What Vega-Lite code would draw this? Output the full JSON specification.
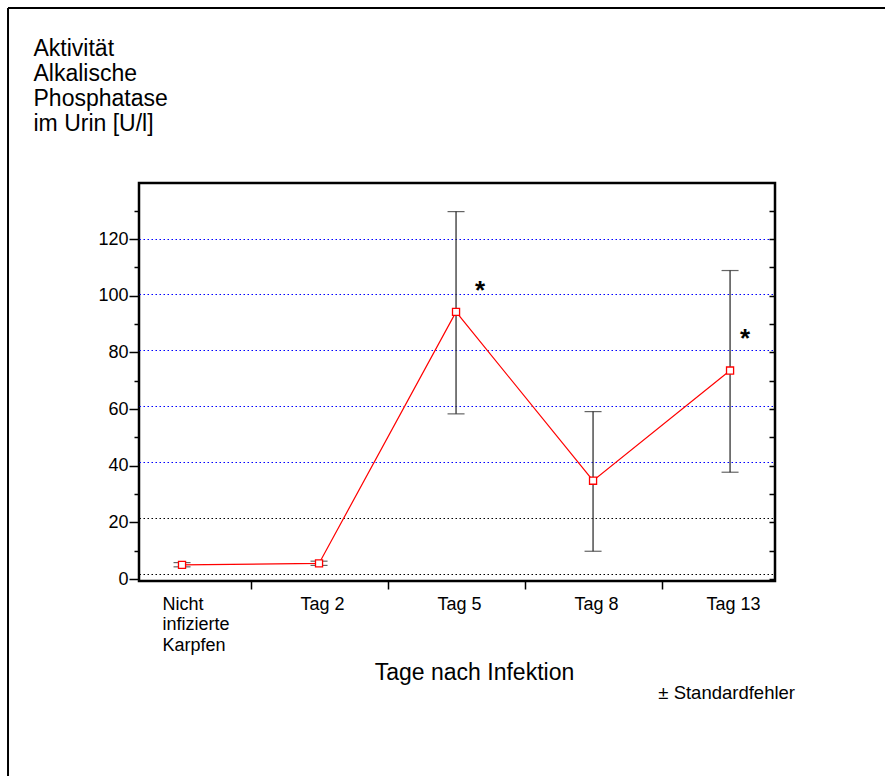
{
  "$schema": "https://vega.github.io/schema/vega-lite/v6.json",
  "width": 636,
  "height": 398,
  "autosize": {"type": "none"},
  "padding": {"left": 139, "top": 183, "right": 110, "bottom": 195},
  "background": "white",
  "config": {
    "font": "Liberation Sans",
    "view": {"stroke": "black", "strokeWidth": 2.5},
    "axis": {"labelColor": "black", "tickColor": "black", "titleColor": "black", "domain": false}
  },
  "data": {
    "values": [
      {"gruppe": "Nicht infizierte Karpfen", "pos": 0, "mittel": 5.0, "lo": 4.3, "hi": 5.8},
      {"gruppe": "Tag 2", "pos": 1, "mittel": 5.5, "lo": 4.8, "hi": 6.3},
      {"gruppe": "Tag 5", "pos": 2, "mittel": 94.3, "lo": 58.3, "hi": 129.7},
      {"gruppe": "Tag 8", "pos": 3, "mittel": 34.7, "lo": 9.8, "hi": 59.1},
      {"gruppe": "Tag 13", "pos": 4, "mittel": 73.6, "lo": 37.7, "hi": 108.9}
    ]
  },
  "resolve": {"axis": {"x": "independent", "y": "independent"}},
  "layer": [
    {
      "mark": {"type": "line", "color": "#ff0000", "strokeWidth": 1.2},
      "encoding": {
        "x": {
          "field": "pos", "type": "quantitative",
          "scale": {"domain": [-0.314, 4.328], "nice": false, "zero": false},
          "axis": null
        },
        "y": {
          "field": "mittel", "type": "quantitative",
          "scale": {"domain": [-0.7, 139.8], "nice": false, "zero": false},
          "axis": {
            "orient": "left", "values": [1.77, 21.54], "ticks": false, "labels": false, "grid": true,
            "gridColor": "black", "gridDash": [1.5, 2.5], "gridWidth": 1, "title": null
          }
        }
      }
    },
    {
      "mark": {"type": "rule", "color": "#222222", "strokeWidth": 1.2},
      "encoding": {
        "x": {
          "field": "pos", "type": "quantitative",
          "axis": {
            "orient": "bottom", "values": [0, 1, 2, 3, 4], "ticks": false, "grid": false,
            "labelExpr": "[['Nicht', 'infizierte', 'Karpfen'], 'Tag 2', 'Tag 5', 'Tag 8', 'Tag 13'][datum.value]",
            "labelFontSize": 18, "labelPadding": 14, "labelLineHeight": 20.5, "labelBaseline": "top",
            "labelAlign": {"condition": {"test": "datum.value == 0", "value": "left"}, "value": "center"},
            "labelOffset": {"condition": {"test": "datum.value == 0", "value": -20}, "value": 3},
            "labelFlush": false, "labelOverlap": false,
            "title": "Tage nach Infektion", "titleFontSize": 23, "titleFontWeight": "normal",
            "titleX": 335, "titleY": 98, "titleBaseline": "alphabetic", "titleAlign": "center"
          }
        },
        "y": {
          "field": "lo", "type": "quantitative",
          "axis": {
            "orient": "left", "values": [0, 20, 40, 60, 80, 100, 120], "tickSize": 10, "tickWidth": 1.5,
            "labelFontSize": 18, "labelPadding": 1, "grid": false,
            "title": ["Aktivität", "Alkalische", "Phosphatase", "im Urin [U/l]"],
            "titleAngle": 0, "titleAlign": "left", "titleBaseline": "alphabetic",
            "titleX": -106, "titleY": -128, "titleFontSize": 23, "titleFontWeight": "normal", "titleLineHeight": 25
          }
        },
        "y2": {"field": "hi"}
      }
    },
    {
      "mark": {"type": "tick", "orient": "horizontal", "color": "#222222", "size": 17, "thickness": 1.2},
      "encoding": {
        "x": {
          "field": "pos", "type": "quantitative",
          "axis": {"orient": "bottom", "values": [0.5, 1.5, 2.5, 3.5], "tickSize": 8, "tickWidth": 1.5, "labels": false, "grid": false, "title": null}
        },
        "y": {
          "field": "hi", "type": "quantitative",
          "axis": {"orient": "left", "values": [10, 30, 50, 70, 90, 110, 130], "tickSize": 5, "tickWidth": 1.5, "labels": false, "grid": false, "title": null}
        }
      }
    },
    {
      "mark": {"type": "tick", "orient": "horizontal", "color": "#222222", "size": 17, "thickness": 1.2},
      "encoding": {
        "x": {"field": "pos", "type": "quantitative", "axis": null},
        "y": {
          "field": "lo", "type": "quantitative",
          "axis": {"orient": "right", "values": [0, 10, 20, 30, 40, 50, 60, 70, 80, 90, 100, 110, 120, 130], "tickSize": -6, "tickWidth": 1.5, "labels": false, "grid": false, "title": null}
        }
      }
    },
    {
      "mark": {"type": "point", "shape": "square", "filled": true, "fill": "white", "stroke": "#ff0000", "strokeWidth": 1.3, "size": 50, "opacity": 1},
      "encoding": {
        "x": {"field": "pos", "type": "quantitative", "axis": null},
        "y": {
          "field": "mittel", "type": "quantitative",
          "axis": {
            "orient": "left", "values": [41.31, 61.08, 80.85, 100.62, 120.2], "ticks": false, "labels": false, "grid": true,
            "gridColor": "#0000ff", "gridDash": [1.5, 2.5], "gridWidth": 1, "title": null
          }
        }
      }
    },
    {
      "data": {"values": [{"bedeutung": "signifikant"}]},
      "mark": {"type": "text", "text": "*", "fontSize": 26, "fontWeight": "bold", "align": "center", "baseline": "alphabetic", "dx": 24, "color": "black"},
      "encoding": {
        "x": {"datum": 2, "type": "quantitative", "axis": null},
        "y": {"datum": 98.9, "type": "quantitative", "axis": null}
      }
    },
    {
      "data": {"values": [{"bedeutung": "signifikant"}]},
      "mark": {"type": "text", "text": "*", "fontSize": 26, "fontWeight": "bold", "align": "center", "baseline": "alphabetic", "dx": 15, "color": "black"},
      "encoding": {
        "x": {"datum": 4, "type": "quantitative", "axis": null},
        "y": {"datum": 82.0, "type": "quantitative", "axis": null}
      }
    },
    {
      "data": {"values": [{"hinweis": "± Standardfehler"}]},
      "mark": {"type": "text", "fontSize": 18.5, "align": "right", "baseline": "alphabetic", "color": "black"},
      "encoding": {
        "text": {"field": "hinweis"},
        "x": {"datum": 4.474, "type": "quantitative", "axis": null},
        "y": {"datum": -42.3, "type": "quantitative", "axis": null}
      }
    },
    {
      "data": {"values": [{"rahmen": "oben"}]},
      "mark": {"type": "rule", "color": "black", "strokeWidth": 2},
      "encoding": {
        "x": {"datum": -1.27, "type": "quantitative", "axis": null},
        "x2": {"datum": 5.2},
        "y": {"datum": 201.6, "type": "quantitative", "axis": null},
        "y2": {"datum": 201.6}
      }
    },
    {
      "data": {"values": [{"rahmen": "links"}]},
      "mark": {"type": "rule", "color": "black", "strokeWidth": 2},
      "encoding": {
        "x": {"datum": -1.27, "type": "quantitative", "axis": null},
        "x2": {"datum": -1.27},
        "y": {"datum": 201.6, "type": "quantitative", "axis": null},
        "y2": {"datum": -69.5}
      }
    }
  ]
}
